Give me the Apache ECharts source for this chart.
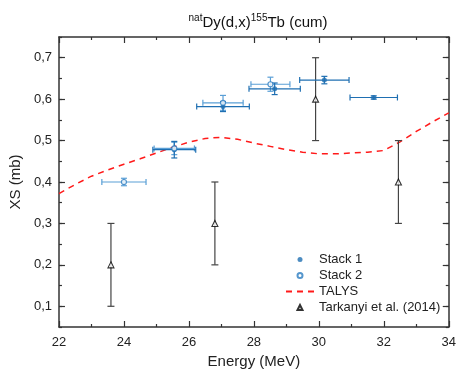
<!DOCTYPE html>
<html>
<head>
<meta charset="utf-8">
<script src="https://cdn.jsdelivr.net/npm/echarts@6/dist/echarts.min.js"></script>
<style>
  html, body { margin: 0; padding: 0; background: #fff; }
  #chart { width: 459px; height: 374px; }
</style>
</head>
<body>
<div id="chart"></div>
<script>
// Stack 1 (filled circles)
const stack1E = [25.55, 27.05, 28.64, 30.17, 31.69]
const stack1XS = [0.478, 0.582, 0.625, 0.646, 0.604]
const stack1dE = [0.66, 0.81, 0.79, 0.76, 0.73]
const stack1dXS = [0.020, 0.012, 0.014, 0.009, 0.004]

// Stack 2 (open circles)
const stack2E = [24.0, 25.55, 27.05, 28.51]
const stack2XS = [0.400, 0.481, 0.591, 0.636]
const stack2dE = [0.68, 0.62, 0.62, 0.60]
const stack2dXS = [0.009, 0.015, 0.018, 0.017]

// TALYS curve
const talysE = [22, 22.5, 23, 23.5, 24, 24.5, 25, 25.5, 26, 26.5, 27, 27.5, 28, 28.5, 29, 29.5, 30, 30.5, 31, 31.5, 32, 32.5, 33, 33.5, 34]
const talysXS = [0.372, 0.394, 0.414, 0.429, 0.443, 0.456, 0.470, 0.484, 0.496, 0.505, 0.508, 0.503, 0.494, 0.486, 0.478, 0.472, 0.468, 0.468, 0.470, 0.472, 0.476, 0.497, 0.522, 0.545, 0.567]

// Tarkanyi et al. (2014)
const tarE = [23.6, 26.8, 29.9, 32.45]
const tarXS = [0.2, 0.3, 0.6, 0.4]
const tarErr = [0.1, 0.1, 0.1, 0.1]

// ticks
const xTicks = [22, 24, 26, 28, 30, 32, 34]
const yTicks = [0.1, 0.2, 0.3, 0.4, 0.5, 0.6, 0.7]

const FONT = 'Liberation Sans, Arial, sans-serif'
const AXIS = '#333'
const C1 = '#1f6fb2'
const C2 = '#5a9fd6'
const C2m = '#2b7cc0'

const chart = echarts.init(document.getElementById('chart'))

function errBars (color, cap) {
  return function (params, api) {
    const x = api.value(0), y = api.value(1), dx = api.value(2), dy = api.value(3)
    const style = { stroke: color, lineWidth: 1.2 }
    const kids = []
    if (dx > 0) {
      const l = api.coord([x - dx, y]), r = api.coord([x + dx, y])
      kids.push({ type: 'line', shape: { x1: l[0], y1: l[1], x2: r[0], y2: r[1] }, style })
      kids.push({ type: 'line', shape: { x1: l[0], y1: l[1] - cap, x2: l[0], y2: l[1] + cap }, style })
      kids.push({ type: 'line', shape: { x1: r[0], y1: r[1] - cap, x2: r[0], y2: r[1] + cap }, style })
    }
    if (dy > 0) {
      const t = api.coord([x, y + dy]), b = api.coord([x, y - dy])
      kids.push({ type: 'line', shape: { x1: t[0], y1: t[1], x2: b[0], y2: b[1] }, style })
      kids.push({ type: 'line', shape: { x1: t[0] - cap, y1: t[1], x2: t[0] + cap, y2: t[1] }, style })
      kids.push({ type: 'line', shape: { x1: b[0] - cap, y1: b[1], x2: b[0] + cap, y2: b[1] }, style })
    }
    return { type: 'group', children: kids }
  }
}

const xCommon = {
  type: 'value', min: 22, max: 34, interval: 2,
  axisLine: { show: true, onZero: false, lineStyle: { color: AXIS, width: 1.5 } },
  axisTick: { show: true, inside: true, length: 6, lineStyle: { color: AXIS, width: 1.2 } },
  minorTick: { show: true, splitNumber: 2, length: 3, lineStyle: { color: AXIS, width: 1.2 } },
  splitLine: { show: false }
}

const yMajor = {
  type: 'value', min: 0.05, max: 0.75,
  axisLine: { show: true, onZero: false, lineStyle: { color: AXIS, width: 1.5 } },
  axisTick: { show: true, inside: true, length: 6, customValues: yTicks, lineStyle: { color: AXIS, width: 1.2 } },
  splitLine: { show: false }
}
const yMinor = {
  type: 'value', min: 0.05, max: 0.75, interval: 0.05,
  axisLine: { show: false },
  axisTick: { show: true, inside: true, length: 3, lineStyle: { color: AXIS, width: 1.2 } },
  axisLabel: { show: false },
  splitLine: { show: false }
}

// small triangle centred in a 28x5 box, so the legend does not stretch it
const legendTriangle = 'path://M0,0M28,5M11.5,5L14,0L16.5,5Z'

const option = {
  animation: false,
  backgroundColor: '#fff',
  textStyle: { fontFamily: FONT },
  title: {
    text: '{sup|nat}{b|Dy(d,x)}{sup|155}{b|Tb (cum)}',
    left: 253, top: 8, textAlign: 'center',
    textStyle: {
      fontWeight: 'normal',
      rich: {
        b: { fontSize: 15, color: '#111', fontFamily: FONT, fontWeight: 'normal', lineHeight: 20 },
        sup: { fontSize: 10, color: '#111', fontFamily: FONT, fontWeight: 'normal', padding: [0, 0, 9, 0] }
      }
    }
  },
  grid: { left: 53, right: 6, top: 37, bottom: 44 },
  legend: {
    orient: 'vertical', left: 285, top: 253, padding: 0,
    itemWidth: 28, itemHeight: 5, itemGap: 3,
    symbolKeepAspect: true,
    textStyle: { fontSize: 13, color: '#222', fontFamily: FONT },
    data: [
      'Stack 1',
      'Stack 2',
      { name: 'TALYS', itemStyle: { opacity: 0 } },
      { name: 'Tarkanyi et al. (2014)', icon: legendTriangle }
    ]
  },
  xAxis: [
    Object.assign({}, xCommon, {
      position: 'bottom',
      name: 'Energy (MeV)', nameLocation: 'middle', nameGap: 27,
      nameTextStyle: { fontSize: 15, color: '#222', fontFamily: FONT },
      axisLabel: { show: true, margin: 9, fontSize: 13, color: '#222', fontFamily: FONT, customValues: xTicks }
    }),
    Object.assign({}, xCommon, { position: 'top', axisLabel: { show: false } })
  ],
  yAxis: [
    Object.assign({}, yMajor, {
      position: 'left',
      name: 'XS (mb)', nameLocation: 'middle', nameGap: 27,
      nameTextStyle: { fontSize: 15, color: '#222', fontFamily: FONT },
      axisLabel: {
        show: true, margin: 7, fontSize: 13, color: '#222', fontFamily: FONT,
        customValues: yTicks,
        formatter: v => v.toFixed(1).replace('.', ',')
      }
    }),
    Object.assign({}, yMajor, { position: 'right', axisLabel: { show: false } }),
    Object.assign({}, yMinor, { position: 'left' }),
    Object.assign({}, yMinor, { position: 'right' })
  ],
  series: [
    {
      name: 'TALYS', type: 'line', symbol: 'none', z: 2,
      lineStyle: { color: '#ff1a1a', width: 1.5, type: [6, 5] },
      itemStyle: { color: '#ff1a1a' },
      data: talysE.map((e, i) => [e, talysXS[i]])
    },
    {
      name: 'tar-err', type: 'custom', z: 3,
      renderItem: errBars('#444', 3.5),
      encode: { x: 0, y: 1 },
      data: tarE.map((e, i) => [e, tarXS[i], 0, tarErr[i]])
    },
    {
      name: 's2-err', type: 'custom', z: 3,
      renderItem: errBars(C2, 3),
      encode: { x: 0, y: 1 },
      data: stack2E.map((e, i) => [e, stack2XS[i], stack2dE[i], stack2dXS[i]])
    },
    {
      name: 's1-err', type: 'custom', z: 4,
      renderItem: errBars(C1, 3),
      encode: { x: 0, y: 1 },
      data: stack1E.map((e, i) => [e, stack1XS[i], stack1dE[i], stack1dXS[i]])
    },
    {
      name: 'Stack 1', type: 'scatter', z: 5,
      symbol: 'circle', symbolSize: 5,
      itemStyle: { color: C1 },
      data: stack1E.map((e, i) => [e, stack1XS[i]])
    },
    {
      name: 'Stack 2', type: 'scatter', z: 6,
      symbol: 'circle', symbolSize: 5,
      itemStyle: { color: '#fff', borderColor: C2m, borderWidth: 1.2 },
      data: stack2E.map((e, i) => [e, stack2XS[i]])
    },
    {
      name: 'Tarkanyi et al. (2014)', type: 'scatter', z: 6,
      symbol: 'triangle', symbolSize: 6,
      itemStyle: { color: '#fff', borderColor: '#000', borderWidth: 1.1 },
      data: tarE.map((e, i) => [e, tarXS[i]])
    }
  ]
}

chart.setOption(option)
</script>
</body>
</html>
